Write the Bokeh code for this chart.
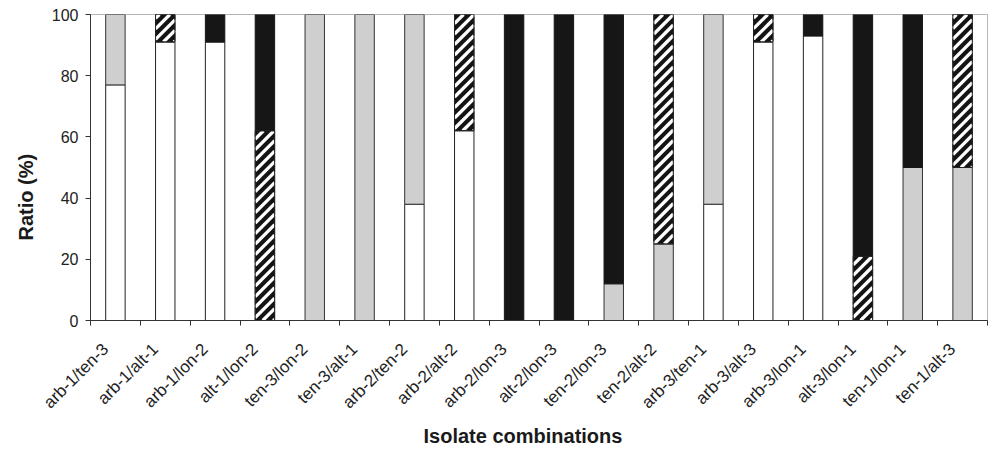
import math
import numpy as np
from bokeh.plotting import figure
from bokeh.models import ColumnDataSource, FixedTicker, LinearAxis, Range1d, Title
from bokeh.embed import file_html
from bokeh.resources import INLINE

categories = ["arb-1/ten-3", "arb-1/alt-1", "arb-1/lon-2", "alt-1/lon-2", "ten-3/lon-2",
              "ten-3/alt-1", "arb-2/ten-2", "arb-2/alt-2", "arb-2/lon-3", "alt-2/lon-3",
              "ten-2/lon-3", "ten-2/alt-2", "arb-3/ten-1", "arb-3/alt-3", "arb-3/lon-1",
              "alt-3/lon-1", "ten-1/lon-1", "ten-1/alt-3"]
arb = [77, 91, 91, 0, 0, 0, 38, 62, 0, 0, 0, 0, 38, 91, 93, 0, 0, 0]
ten = [23, 0, 0, 0, 100, 100, 62, 0, 0, 0, 12, 25, 62, 0, 0, 0, 50, 50]
alt = [0, 9, 0, 62, 0, 0, 0, 38, 0, 0, 0, 75, 0, 9, 0, 21, 0, 50]
lon = [0, 0, 9, 38, 0, 0, 0, 0, 100, 100, 88, 0, 0, 0, 7, 79, 50, 0]
y_ticks = [0, 20, 40, 60, 80, 100]
x_title = "Isolate combinations"
y_title = "Ratio (%)"

n = len(categories)
idx = np.arange(n)
d = 0.2          # bars sit slightly right of their rotated label anchors
BW = 0.39        # bar width (category units)
FRAME_W, FRAME_H = 898, 306

p = figure(width=989, height=449, output_backend="svg", toolbar_location=None,
           x_range=Range1d(d - 0.5, n - 0.5 + d), y_range=Range1d(0, 100),
           min_border_left=89, min_border_right=2, min_border_top=14, min_border_bottom=129,
           x_axis_location=None, y_axis_location=None)
p.grid.visible = False
p.outline_line_color = "#b5b5b5"
p.outline_line_width = 1
p.background_fill_color = "white"
p.border_fill_color = "white"

FONT = "Liberation Sans"

yaxis = LinearAxis(ticker=FixedTicker(ticks=y_ticks, minor_ticks=[]))
yaxis.axis_line_color = "#333333"
yaxis.major_tick_line_color = "#333333"
yaxis.major_tick_out = 5
yaxis.major_tick_in = 0
yaxis.minor_tick_out = 0
yaxis.major_label_text_font = FONT
yaxis.major_label_text_font_size = "16px"
yaxis.major_label_text_color = "#222222"
yaxis.major_label_standoff = 7
p.add_layout(yaxis, "left")

xaxis = LinearAxis(ticker=FixedTicker(ticks=[int(i) for i in idx],
                                      minor_ticks=[i + d - 0.5 for i in range(n + 1)]))
xaxis.major_label_overrides = {int(i): c for i, c in zip(idx, categories)}
xaxis.axis_line_color = "#333333"
xaxis.major_tick_out = 0
xaxis.major_tick_in = 0
xaxis.minor_tick_line_color = "#333333"
xaxis.minor_tick_out = 5
xaxis.minor_tick_in = 0
xaxis.major_label_orientation = math.pi / 4
xaxis.major_label_text_font = FONT
xaxis.major_label_text_font_size = "17px"
xaxis.major_label_text_color = "#222222"
xaxis.major_label_standoff = 21
p.add_layout(xaxis, "below")

# cumulative stacking
arb_a, ten_a, alt_a, lon_a = (np.array(v, dtype=float) for v in (arb, ten, alt, lon))
b_arb = np.zeros(n)
b_ten = b_arb + arb_a
b_alt = b_ten + ten_a
b_lon = b_alt + alt_a


def src_for(vals, base):
    m = vals > 0
    return ColumnDataSource(dict(x=idx[m] + d, bottom=base[m], top=(base + vals)[m]))


# hatched series: black bar + white diagonal stripes
alt_src = src_for(alt_a, b_alt)
p.vbar(x="x", width=BW, bottom="bottom", top="top", source=alt_src,
       fill_color="#141414", line_color="#222222", line_width=1)

sxu = FRAME_W / n       # px per x unit
syu = FRAME_H / 100.0   # px per y unit
P = 10.5                # stripe period in px
sx0, sy0, sx1, sy1 = [], [], [], []
for xc, b0, t0 in zip(alt_src.data["x"], alt_src.data["bottom"], alt_src.data["top"]):
    X0, X1 = (xc - BW / 2) * sxu, (xc + BW / 2) * sxu
    Y0, Y1 = b0 * syu, t0 * syu
    k0 = math.ceil((Y0 - X1) / P)
    k1 = math.floor((Y1 - X0) / P)
    for k in range(k0, k1 + 1):
        c = k * P
        xs = max(X0, Y0 - c)
        xe = min(X1, Y1 - c)
        if xe - xs > 0.3:
            sx0.append(xs / sxu); sy0.append((xs + c) / syu)
            sx1.append(xe / sxu); sy1.append((xe + c) / syu)
p.segment(x0=sx0, y0=sy0, x1=sx1, y1=sy1, line_color="white", line_width=3.3, line_cap="butt")

p.vbar(x="x", width=BW, bottom="bottom", top="top", source=src_for(arb_a, b_arb),
       fill_color="white", line_color="#222222", line_width=1)
p.vbar(x="x", width=BW, bottom="bottom", top="top", source=src_for(ten_a, b_ten),
       fill_color="#cfcfcf", line_color="#333333", line_width=1)
p.vbar(x="x", width=BW, bottom="bottom", top="top", source=src_for(lon_a, b_lon),
       fill_color="#161616", line_color="#161616", line_width=1)
p.vbar(x="x", width=BW, bottom="bottom", top="top", source=alt_src,
       fill_color=None, line_color="#222222", line_width=1)

p.add_layout(Title(text=x_title, align="left", offset=333, standoff=2,
                   text_font=FONT, text_font_style="bold", text_font_size="20px",
                   text_color="#1a1a1a"), "below")
p.add_layout(Title(text=y_title, align="left", offset=80, standoff=24,
                   text_font=FONT, text_font_style="bold", text_font_size="20px",
                   text_color="#1a1a1a"), "left")

open("out.html", "w").write(file_html(p, INLINE))
